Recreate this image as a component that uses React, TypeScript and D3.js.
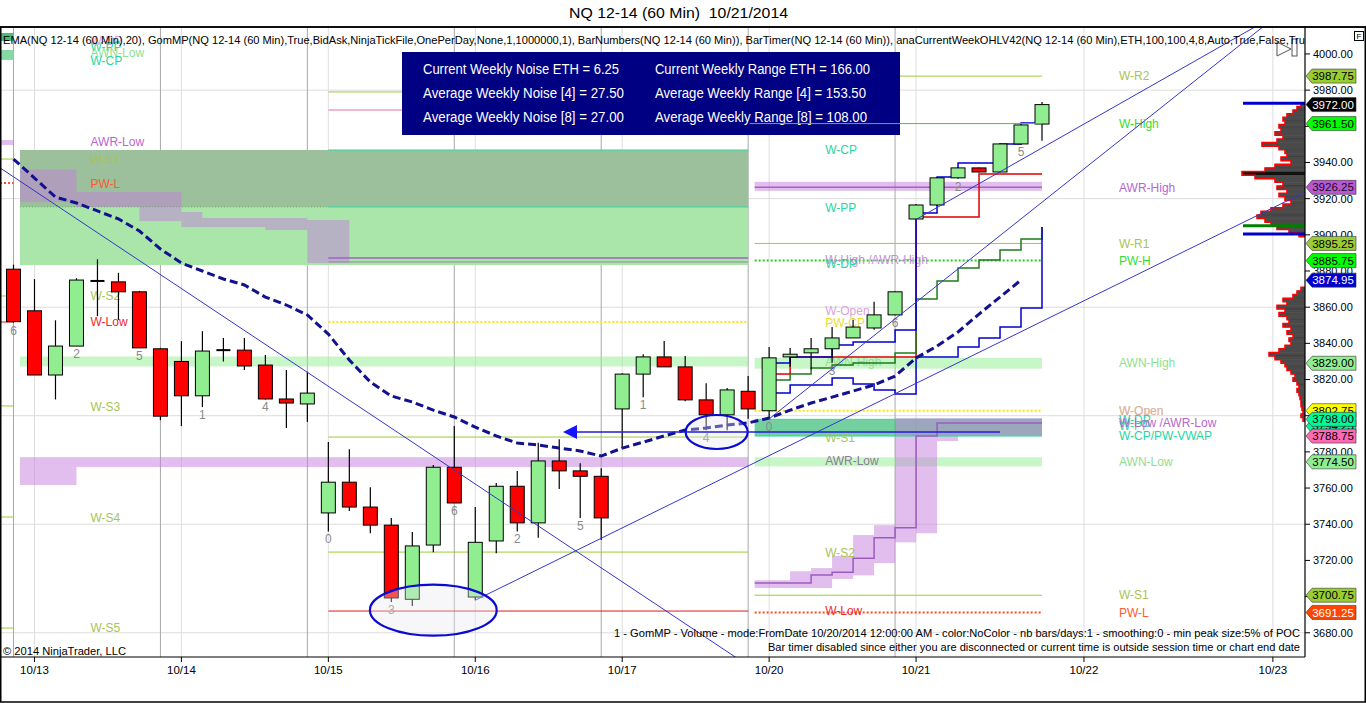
import React from 'react';
import * as d3 from 'd3';

// ---- hourly bars, NQ 12-14 (60 Min), bar index 0..49 ----
const opens = [3881, 3858, 3822.5, 3838.5, 3874.5, 3874, 3868.5, 3837, 3830, 3811,
  3836.25, 3836.25, 3828, 3809.25, 3806.5, 3746.25, 3763.25, 3749.5, 3739.5, 3698.5,
  3728.5, 3771.5, 3699.75, 3730.75, 3761, 3740.75, 3775, 3769.5, 3766.5, 3803.75,
  3823, 3832.5, 3827, 3808.75, 3800.5, 3813.5, 3802.75, 3832.5, 3834.75, 3837,
  3843, 3848.5, 3855.75, 3908.75, 3916.5, 3931.5, 3937, 3934.75, 3950.25, 3961.25];
const highs = [3883.5, 3875.5, 3852.75, 3876, 3886.5, 3879, 3869, 3837.5, 3841.25, 3846.75,
  3843, 3843, 3833.5, 3825.25, 3824.25, 3785.5, 3781.5, 3760.5, 3743.5, 3735.75,
  3772.75, 3794.25, 3749.5, 3762.75, 3769.5, 3785, 3787, 3773.75, 3771, 3823.5,
  3834, 3841.25, 3833, 3818, 3815.25, 3822, 3838, 3837.5, 3843, 3849,
  3853, 3863, 3868.75, 3917, 3932, 3937.5, 3937.25, 3950.5, 3961, 3973.5];
const lows = [3851.5, 3822.5, 3809, 3838.5, 3855, 3853, 3837.5, 3797.5, 3794.25, 3804.75,
  3830, 3825.25, 3809, 3793.25, 3796.5, 3736, 3747.25, 3735, 3697, 3694.75,
  3724.5, 3751.75, 3698, 3724, 3736, 3732.5, 3759.5, 3743.5, 3731.25, 3782,
  3810.25, 3827, 3808, 3792, 3792, 3798.25, 3798.25, 3827, 3825.75, 3829.25,
  3843, 3847.5, 3855.5, 3908.5, 3916, 3931, 3934.5, 3934.5, 3950, 3952];
const closes = [3852, 3822.5, 3838.5, 3875, 3874.5, 3868.5, 3837.5, 3799.75, 3811, 3835.75,
  3836.25, 3827.5, 3809.25, 3807, 3812.5, 3763.25, 3749.5, 3739.5, 3699.25, 3728,
  3771.5, 3751.75, 3730, 3761, 3740.75, 3775, 3769.5, 3766.5, 3743.5, 3823,
  3832.5, 3827, 3808.75, 3800.5, 3814.25, 3803.75, 3832, 3834, 3837, 3843,
  3849, 3855.75, 3868.5, 3916.5, 3931.5, 3937, 3934.75, 3950.25, 3960.75, 3972];

const ema20 = [3941.9, 3931.4, 3920.9, 3917.6, 3913.2, 3908.8, 3902.1, 3892.2, 3884.4, 3880,
  3875.6, 3872.3, 3865.6, 3861.2, 3855.7, 3845.1, 3830.8, 3818.6, 3810.9, 3807.6,
  3803.1, 3799.3, 3793.7, 3788.8, 3784.9, 3783.8, 3782.1, 3780.5, 3777.7, 3782.1,
  3785.4, 3788.8, 3792.1, 3793.2, 3794.8, 3796, 3798.7, 3803.1, 3807, 3810.3,
  3813.6, 3817, 3821.9, 3831.9, 3838.5, 3846.3, 3856.2, 3865.6, 3875];

const barNumberAt = [0, 3, 6, 9, 12, 15, 18, 21, 24, 27, 30, 33, 36, 39, 42, 45, 48];
const barNumberText = ['6', '2', '5', '1', '4', '0', '3', '6', '2', '5', '1', '4', '0', '3', '6', '2', '5'];

const dateTickBars = [1, 8, 15, 22, 29, 36, 43, 51, 60];
const dateTickText = ['10/13', '10/14', '10/15', '10/16', '10/17', '10/20', '10/21', '10/22', '10/23'];
const sessionEndBars = [0, 7, 14, 21, 28, 35, 42];

const priceTicks = [3680, 3700, 3720, 3740, 3760, 3780, 3800, 3820, 3840, 3860, 3880, 3900, 3920, 3940, 3960, 3980, 4000];
const priceGrid = [3680, 3740, 3800, 3860, 3920, 3980];

// ---- weekly levels (anaCurrentWeekOHLV) ----
const stubWeek = [-0.64, 0];
const prevWeek = [0.31, 35];
const currWeek = [35.31, 49];

const stubLevels: [number, string][] = [
  [3941.9, 'pivot'], [3928.7, 'pwl'], [3866.2, 'pivot'], [3851.8, 'low'],
  [3805.4, 'pivot'], [3744, 'pivot'], [3682.6, 'pivot']];
const stubBands: [number, number, string][] = [
  [4007.2, 4011.6, 'stubDark'], [3996.7, 4002.2, 'stubLight'], [3949.7, 3952.4, 'lilac']];
const stubLabels: [string, number, string][] = [
  ['W-DP', 4007.5, 'openPink'], ['W-PP', 4003.9, 'cp'], ['AWN-Low', 4000.4, 'awn'], ['W-CP', 3996.3, 'cp'],
  ['AWR-Low', 3951.3, 'awr'], ['W-S1', 3941.4, 'pivot'], ['PW-L', 3928.1, 'pwl'], ['W-S2', 3866.2, 'pivot'],
  ['W-Low', 3851.8, 'low'], ['W-S3', 3804.8, 'pivot'], ['W-S4', 3743.4, 'pivot'], ['W-S5', 3682.6, 'pivot']];

const prevLevels: [number, string, number, number][] = [
  [3979, 'pivot', 15, 35], [3969, 'pink', 15, 35], [3946.9, 'cp', 15, 35], [3915.4, 'cp', 15, 35],
  [3915.4, 'dotGreen', 0.31, 15], [3887.2, 'awr', 15, 35], [3885, 'gray', 15, 35],
  [3851.8, 'open', 15, 35], [3788.2, 'pivot', 15, 35], [3724.6, 'pivot', 15, 35], [3692, 'low', 15, 35]];
const prevBands: [number, number, number, number, string][] = [
  [0.31, 35, 3883.3, 3946.9, 'zone'], [0.31, 35, 3915.4, 3946.9, 'zoneGray'],
  [0.31, 35, 3827.25, 3832.75, 'awn'], [0.31, 35, 3771.6, 3777.1, 'lilac'], [0.31, 3, 3761.7, 3771.6, 'lilac'],
  [0.31, 3, 3918.2, 3936, 'lilac'], [3, 8, 3915.4, 3923.7, 'lilac'], [6, 8, 3907.6, 3915.4, 'lilac'],
  [8, 9, 3904.3, 3912.6, 'lilac'], [9, 12, 3904.3, 3909.3, 'lilac'], [12, 14, 3902.7, 3909.3, 'lilac'],
  [14, 16, 3884.4, 3908.2, 'lilac']];
const prevLabels: [string, number, string][] = [
  ['W-CP', 3946.9, 'cp'], ['W-PP', 3914.8, 'cp'], ['W-High /AWR-High', 3886.1, 'awrLight'], ['W-DP', 3883.9, 'cp'],
  ['W-Open', 3857.9, 'openPink'], ['PW-CP', 3851.2, 'open'], ['AWN-High', 3829.7, 'awn'], ['W-S1', 3787.7, 'pivot'],
  ['AWR-Low', 3774.9, 'awrGray'], ['W-S2', 3724.1, 'pivot'], ['W-Low', 3692, 'low']];

const currLevels: [number, string][] = [
  [3987.75, 'pivot'], [3926.25, 'awr'], [3895.25, 'pivot'], [3885.75, 'pwh'], [3802.75, 'open'],
  [3798, 'cp'], [3788.75, 'cp'], [3700.75, 'pivot'], [3691.25, 'pwl']];
const currBands: [number, number, number, number, string][] = [
  [35.31, 49, 3924.3, 3929.3, 'lilac'], [35.31, 49, 3826, 3832, 'awn'],
  [35.31, 49, 3788.75, 3798, 'cpBand'], [35.31, 49, 3772, 3777, 'awn'],
  [35.31, 37, 3704.75, 3709, 'lilac'], [37, 38, 3704.75, 3714, 'lilac'], [38, 39, 3704.75, 3715.75, 'lilac'],
  [39, 40, 3709.75, 3722.5, 'lilac'], [40, 41, 3711.75, 3734, 'lilac'], [41, 42, 3718.5, 3739.5, 'lilac'],
  [42, 43, 3730, 3798.75, 'lilac'], [43, 44, 3735, 3798.75, 'lilac'], [44, 45, 3786, 3798.75, 'lilac'],
  [45, 49, 3789.25, 3798.75, 'lilac']];
const currLabels: [string, number, string][] = [
  ['W-R2', 3987.75, 'pivot'], ['W-High', 3961.5, 'high'], ['AWR-High', 3926.25, 'awr'], ['W-R1', 3895.25, 'pivot'],
  ['PW-H', 3885.75, 'high'], ['AWN-High', 3829, 'awn'], ['W-Open', 3802.75, 'open'], ['W-Open', 3802.75, 'openPink'],
  ['W-DP', 3798, 'cp'], ['W-PP', 3794.3, 'cp'], ['W-Low /AWR-Low', 3795.9, 'awr'], ['W-CP/PW-VWAP', 3788.75, 'cp'],
  ['AWN-Low', 3774.5, 'awn'], ['W-S1', 3700.75, 'pivot'], ['PW-L', 3691.25, 'pwl']];
const weekHigh = 3961.5;

// developing levels of the current week [startBar, price]
const awrLowSteps: [number, number][] = [[35.31, 3707.5], [38, 3712], [39, 3713.5], [40, 3721.25], [41, 3732.5], [42, 3738], [43, 3788.75], [44, 3796]];
const stepRed: [number, number][] = [[36, 3823], [37, 3832.4], [43, 3909.9], [46, 3933.6]];
const stepBlueUpper: [number, number][] = [[36, 3829.1], [37, 3832.4], [39, 3839.1], [40, 3840.7], [42, 3847.4], [43, 3912], [44, 3932], [45, 3939.7], [47, 3950.25], [48, 3961.8]];
const stepGreen: [number, number][] = [[36, 3819.7], [37, 3823], [38, 3826.4], [39, 3828], [40, 3829.1], [42, 3834.7], [43, 3864.5], [44, 3874.5], [45, 3881.7], [46, 3886.1], [47, 3891.6], [48, 3897.7]];
const stepBlueLower: [number, number][] = [[36, 3812.5], [37, 3817], [39, 3820.8], [40, 3817.5], [41, 3814.2], [42, 3812], [43, 3832.4], [45, 3838], [46, 3843], [47, 3849], [48, 3859.5]];
const stepEndPrice = 3904.3;

// drawings: trend lines [bar1, price1, bar2, price2], ellipses, arrow
const trendLines: [number, number, number, number][] = [
  [-0.64, 3937, 34.4, 3666.5], [22, 3698, 61.5, 3923.5], [36, 3798.25, 59.2, 4012], [43, 3908.5, 58.7, 4012]];
const ellipses: [number, number, number, number][] = [[20, 3692.5, 3.02, 14.1], [33.5, 3791, 1.48, 9.4]];
const arrowFrom = 26.18, arrowTo = 47, arrowPrice = 3791;

// GomMP volume profile from 10/20
const profilePrices = [3972, 3970, 3968, 3966, 3964, 3962, 3960, 3958, 3956, 3954, 3952, 3950, 3948, 3946, 3944, 3942, 3940, 3938, 3936, 3934,
  3932, 3930, 3928, 3926, 3924, 3922, 3920, 3918, 3916, 3914, 3912, 3910, 3908, 3906, 3904, 3902, 3900,
  3870, 3868, 3866, 3864, 3862, 3860, 3858, 3856, 3854, 3852, 3850, 3848, 3846, 3844, 3842, 3840, 3838, 3836, 3834,
  3832, 3830, 3828, 3826, 3824, 3822, 3820, 3818, 3816, 3814, 3812, 3810, 3808, 3806, 3804, 3802, 3800, 3798];
const profileVolume = [4, 8, 12, 18, 22, 20, 26, 24, 30, 22, 28, 43, 26, 20, 18, 24, 14, 30, 40, 63,
  50, 30, 22, 28, 18, 26, 20, 14, 22, 34, 44, 48, 40, 34, 28, 16, 6,
  4, 8, 12, 22, 18, 28, 20, 26, 18, 16, 22, 14, 18, 12, 16, 14, 20, 26, 36,
  30, 24, 20, 18, 14, 10, 12, 8, 6, 8, 6, 5, 4, 4, 3, 2, 4, 2];
const profileMarks: [number, string][] = [[3972.75, '#0000cd'], [3905, '#008000'], [3900.5, '#0000cd']];

// right-axis price markers
const priceTags: [number, string, string][] = [
  [3987.75, '#9acd32', '#000'], [3972, '#000000', '#fff'], [3961.5, '#00ff00', '#000'], [3926.25, '#ba55d3', '#111'],
  [3895.25, '#9acd32', '#000'], [3885.75, '#00ff00', '#000'], [3874.95, '#0000cd', '#fff'], [3829, '#90ee90', '#000'],
  [3802.75, '#ffff00', '#000'], [3794.25, '#00fa9a', '#000'], [3788.75, '#ff69b4', '#000'], [3798, '#00fa9a', '#000'],
  [3774.5, '#90ee90', '#000'], [3700.75, '#9acd32', '#000'], [3691.25, '#ff4500', '#fff']];

const noiseLines = ['Current Weekly Noise ETH = 6.25', 'Average Weekly Noise [4] = 27.50', 'Average Weekly Noise [8] = 27.00'];
const rangeLines = ['Current Weekly Range ETH = 166.00', 'Average Weekly Range [4] = 153.50', 'Average Weekly Range [8] = 108.00'];

const indicatorText = 'EMA(NQ 12-14 (60 Min),20), GomMP(NQ 12-14 (60 Min),True,BidAsk,NinjaTickFile,OnePerDay,None,1,1000000,1), BarNumbers(NQ 12-14 (60 Min)), BarTimer(NQ 12-14 (60 Min)), anaCurrentWeekOHLV42(NQ 12-14 (60 Min),ETH,100,100,4,8,Auto,True,False,Tru';

const lineStyle: Record<string, { stroke: string; width: number; dash?: string }> = {
  pivot: { stroke: '#9acd32', width: 1 },
  high: { stroke: '#22dd22', width: 1 },
  pwh: { stroke: '#22cc22', width: 2, dash: '2,2' },
  awr: { stroke: '#a063c8', width: 1.5 },
  open: { stroke: '#ffe600', width: 2, dash: '2,2' },
  cp: { stroke: '#30d8a0', width: 1 },
  pwl: { stroke: '#ff4a20', width: 2, dash: '2,2' },
  low: { stroke: '#e01818', width: 1 },
  pink: { stroke: '#e070b0', width: 1 },
  gray: { stroke: '#909090', width: 1 },
  dotGreen: { stroke: '#5cbf5c', width: 1, dash: '1,2' },
};
const labelColor: Record<string, string> = {
  pivot: '#a7c457', high: '#33dd33', awr: '#b866d0', awrLight: '#c490d4', awrGray: '#8c7c98', awn: '#8ee08e',
  open: '#eadc2a', openPink: '#d8a4dc', cp: '#26d6a0', pwl: '#ff5a30', low: '#ee2a2a',
};
const bandFill: Record<string, string> = {
  zone: '#aae6aa', zoneGray: 'rgba(131,131,131,0.38)', awn: 'rgba(144,238,144,0.5)',
  lilac: 'rgba(195,125,220,0.5)', cpBand: 'rgba(30,180,100,0.62)', stubDark: '#4cbb7a', stubLight: '#86d9a4',
};

const FONT = 'Arial, "Liberation Sans", sans-serif';

export default function App() {
  const x = d3.scaleLinear().domain([0, 49]).range([13.5, 1042]);
  const y = d3.scaleLinear().domain([3666.6, 4014.9]).range([657, 27]);
  const right = 1305, top = 27, bottom = 657;
  const labelGap = 77;

  const emaPath = d3.line<number>().x((_, i) => x(i)).y(d => y(d))(ema20) || '';
  const step = (pts: [number, number][], end: number, endPrice?: number) => {
    const all: [number, number][] = [...pts, [end, pts[pts.length - 1][1]]];
    if (endPrice !== undefined) all.push([end, endPrice]);
    return d3.line<[number, number]>().x(d => x(d[0])).y(d => y(d[1])).curve(d3.curveStepAfter)(all) || '';
  };
  const band = (b0: number, b1: number, lo: number, hi: number, kind: string, key: string) => (
    <rect key={key} x={x(b0)} y={y(hi)} width={x(b1) - x(b0)} height={y(lo) - y(hi)} fill={bandFill[kind]} />
  );
  const level = (b0: number, b1: number, p: number, kind: string, key: string) => {
    const s = lineStyle[kind];
    return <line key={key} x1={x(b0)} x2={x(b1)} y1={y(p)} y2={y(p)} stroke={s.stroke} strokeWidth={s.width} strokeDasharray={s.dash} />;
  };
  const labels = (list: [string, number, string][], endBar: number, prefix: string) =>
    list.map(([t, p, k], i) => (
      <text key={prefix + i} x={x(endBar) + labelGap} y={y(p)} dy="0.35em" fontSize={12} fill={labelColor[k]}
        opacity={k === 'openPink' && prefix === 'c' ? 0.8 : 1}>{t}</text>
    ));
  const extend = ([b1, p1, b2, p2]: [number, number, number, number]) => {
    const slope = (p2 - p1) / (b2 - b1);
    const b3 = 70;
    return { x1: x(b1), y1: y(p1), x2: x(b3), y2: y(p1 + slope * (b3 - b1)) };
  };

  const volW = d3.scaleLinear().domain([0, d3.max(profileVolume) || 1]).range([0, 63]);
  const binH = y(3900) - y(3902);
  let profileOutline = '';
  let prevP: number | null = null;
  profilePrices.forEach((p, i) => {
    const xl = right - volW(profileVolume[i]);
    const yt = y(p + 1), yb = y(p - 1);
    if (prevP === null || prevP - p > 2) profileOutline += `M${right},${yt}`;
    profileOutline += `L${xl},${yt}L${xl},${yb}`;
    const next = profilePrices[i + 1];
    if (next === undefined || p - next > 2) profileOutline += `L${right},${yb}`;
    prevP = p;
  });

  return (
    <div>
      <style>{'body{margin:0;background:#fff;}'}</style>
      <svg width={1366} height={703} style={{ display: 'block', fontFamily: FONT }}>
        <defs>
          <clipPath id="plotClip"><rect x={0} y={top} width={right} height={bottom - top} /></clipPath>
        </defs>
        <rect x={0} y={0} width={1366} height={703} fill="#fff" />

        <g clipPath="url(#plotClip)">
          {/* grid */}
          {priceGrid.map(p => <line key={'g' + p} x1={0} x2={right} y1={y(p)} y2={y(p)} stroke="#dcdcdc" />)}
          {dateTickBars.map(b => <line key={'vd' + b} x1={x(b)} x2={x(b)} y1={top} y2={bottom} stroke="#dedede" />)}
          {sessionEndBars.map(b => <line key={'vs' + b} x1={x(b)} x2={x(b)} y1={top} y2={bottom} stroke="#a8a8a8" />)}

          {/* zones */}
          {stubBands.map(([lo, hi, k], i) => band(stubWeek[0], stubWeek[1], lo, hi, k, 'sb' + i))}
          {prevBands.map(([b0, b1, lo, hi, k], i) => band(b0, b1, lo, hi, k, 'pb' + i))}
          {currBands.map(([b0, b1, lo, hi, k], i) => band(b0, b1, lo, hi, k, 'cb' + i))}

          {/* weekly levels */}
          {stubLevels.map(([p, k], i) => level(stubWeek[0], stubWeek[1], p, k, 'sl' + i))}
          {prevLevels.map(([p, k, b0, b1], i) => level(b0, b1, p, k, 'pl' + i))}
          {currLevels.map(([p, k], i) => level(currWeek[0], currWeek[1], p, k, 'cl' + i))}
          <path d={step(awrLowSteps, currWeek[1])} fill="none" stroke="#9a5cc0" strokeWidth={1.5} />

          {labels(stubLabels, stubWeek[1], 's')}
          {labels(prevLabels, prevWeek[1], 'p')}
          {labels(currLabels, currWeek[1], 'c')}

          {/* volume profile */}
          {profilePrices.map((p, i) => (
            <rect key={'vp' + i} x={right - volW(profileVolume[i])} y={y(p + 1)} width={volW(profileVolume[i])} height={binH}
              fill={profileVolume[i] === d3.max(profileVolume) ? '#111' : '#4a4a4a'} stroke="#2a2a2a" strokeWidth={0.3} />
          ))}
          <path d={profileOutline} fill="none" stroke="#ff0000" strokeWidth={1.5} />
          {profileMarks.map(([p, c], i) => (
            <line key={'pm' + i} x1={1243} x2={right} y1={y(p)} y2={y(p)} stroke={c} strokeWidth={3} />
          ))}

          {/* developing levels */}
          <path d={step(stepRed, 49)} fill="none" stroke="#e00000" strokeWidth={1.5} />
          <path d={step(stepGreen, 49, stepEndPrice)} fill="none" stroke="#1e7b1e" strokeWidth={1.5} />
          <path d={step(stepBlueLower, 49, stepEndPrice)} fill="none" stroke="#0000cd" strokeWidth={1.5} />
          <path d={step(stepBlueUpper, 49)} fill="none" stroke="#0000cd" strokeWidth={1.5} />

          {/* candles */}
          {opens.map((o, i) => {
            const c = closes[i];
            const cx = x(i);
            const up = c > o;
            const yt = y(Math.max(o, c)), yb = y(Math.min(o, c));
            return (
              <g key={'c' + i}>
                <line x1={cx} x2={cx} y1={y(highs[i])} y2={y(lows[i])} stroke="#000" strokeWidth={1.2} />
                {o === c
                  ? <line x1={cx - 7} x2={cx + 7} y1={yt} y2={yt} stroke="#000" strokeWidth={2} />
                  : <rect x={cx - 7} y={yt} width={14} height={Math.max(1, yb - yt)} fill={up ? '#90ee90' : '#ff0000'} stroke="#000" strokeWidth={1} />}
              </g>
            );
          })}
          {barNumberAt.map((b, i) => (
            <text key={'bn' + i} x={x(b)} y={y(lows[b]) + 12} textAnchor="middle" fontSize={12} fill="#8a8a8a">{barNumberText[i]}</text>
          ))}

          {/* EMA 20 */}
          <path d={emaPath} fill="none" stroke="#12128f" strokeWidth={3} strokeDasharray="8,4" />

          {/* drawings */}
          {trendLines.map((t, i) => {
            const l = extend(t);
            const x1 = i === 0 ? x(-10) : l.x1;
            const y1 = i === 0 ? y(t[1] + ((t[3] - t[1]) / (t[2] - t[0])) * (-10 - t[0])) : l.y1;
            return <line key={'tl' + i} x1={x1} y1={y1} x2={l.x2} y2={l.y2} stroke="#3535cf" strokeWidth={1} />;
          })}
          {ellipses.map(([b, p, rb, rp], i) => (
            <ellipse key={'el' + i} cx={x(b)} cy={y(p)} rx={x(b + rb) - x(b)} ry={y(p - rp) - y(p)}
              fill="rgba(232,232,240,0.35)" stroke="#0a0ad2" strokeWidth={2.2} />
          ))}
          <line x1={x(arrowFrom) + 10} x2={x(arrowTo)} y1={y(arrowPrice)} y2={y(arrowPrice)} stroke="#1c1cd8" strokeWidth={1.5} />
          <path d={`M${x(arrowFrom)},${y(arrowPrice)}L${x(arrowFrom) + 14},${y(arrowPrice) - 7}L${x(arrowFrom) + 14},${y(arrowPrice) + 7}Z`} fill="#1414ff" />

          {/* weekly noise / range box */}
          <rect x={402} y={52} width={498} height={83} fill="#000083" />
          {noiseLines.map((t, i) => (
            <text key={'n' + i} x={423} y={69 + i * 24} dy="0.35em" fontSize={14} fill="#fff" textLength={i === 0 ? 196 : 201} lengthAdjust="spacingAndGlyphs">{t}</text>
          ))}
          {rangeLines.map((t, i) => (
            <text key={'r' + i} x={655} y={69 + i * 24} dy="0.35em" fontSize={14} fill="#fff" textLength={[215, 211, 212][i]} lengthAdjust="spacingAndGlyphs">{t}</text>
          ))}
          <line x1={x(currWeek[0]) - 5} x2={x(currWeek[1])} y1={y(weekHigh)} y2={y(weekHigh)} stroke="#22dd22" strokeWidth={1} />

          {/* bar timer glyph */}
          <path d="M1277,42L1291,49L1277,56Z" fill="#fff" stroke="#555" strokeWidth={1} />
          <rect x={1292} y={39} width={5} height={17} fill="#fff" stroke="#555" strokeWidth={1} />
        </g>

        {/* texts */}
        <text x={3} y={40} dy="0.35em" fontSize={11.5} fill="#000" textLength={1302} lengthAdjust="spacingAndGlyphs">{indicatorText}</text>
        <text x={3} y={651} dy="0.35em" fontSize={11} fill="#000" textLength={123} lengthAdjust="spacingAndGlyphs">© 2014 NinjaTrader, LLC</text>
        <text x={614} y={633} dy="0.35em" fontSize={11.5} fill="#000" textLength={686} lengthAdjust="spacingAndGlyphs">1 - GomMP - Volume - mode:FromDate 10/20/2014 12:00:00 AM - color:NoColor - nb bars/days:1 - smoothing:0 - min peak size:5% of POC</text>
        <text x={768} y={646.5} dy="0.35em" fontSize={11.5} fill="#000" textLength={532} lengthAdjust="spacingAndGlyphs">Bar timer disabled since either you are disconnected or current time is outside session time or chart end date</text>

        {/* axes */}
        {priceTicks.map(p => (
          <g key={'pt' + p}>
            <line x1={right} x2={right + 5} y1={y(p)} y2={y(p)} stroke="#000" />
            <text x={right + 8} y={y(p)} dy="0.35em" fontSize={11} fill="#000">{p.toFixed(2)}</text>
          </g>
        ))}
        {priceTags.map(([p, fill, tc], i) => {
          const ty = y(p);
          return (
            <g key={'tag' + i}>
              <path d={`M${right + 1},${ty}L${right + 7},${ty - 7}L1356,${ty - 7}L1356,${ty + 7}L${right + 7},${ty + 7}Z`} fill={fill} stroke="#333" strokeWidth={0.6} />
              <text x={1333} y={ty} dy="0.36em" fontSize={11.5} textAnchor="middle" fill={tc}>{p.toFixed(2)}</text>
            </g>
          );
        })}
        {dateTickBars.map((b, i) => (
          <g key={'dt' + b}>
            <line x1={x(b)} x2={x(b)} y1={bottom} y2={bottom + 5} stroke="#000" />
            <text x={x(b)} y={670} dy="0.35em" fontSize={11.5} textAnchor="middle" fill="#000">{dateTickText[i]}</text>
          </g>
        ))}

        {/* frame */}
        <line x1={0} x2={1366} y1={top} y2={top} stroke="#000" strokeWidth={1.5} />
        <line x1={right} x2={right} y1={top} y2={bottom} stroke="#000" strokeWidth={1.2} />
        <line x1={0} x2={right} y1={bottom} y2={bottom} stroke="#000" strokeWidth={1.2} />
        <rect x={0.75} y={top} width={1364.5} height={703 - top - 1} fill="none" stroke="#000" strokeWidth={1.5} />
        <rect x={1354.5} y={31.5} width={9} height={9} fill="#fff" stroke="#000" strokeWidth={1} />
        <text x={1359} y={36} dy="0.35em" fontSize={8} textAnchor="middle" fill="#000">F</text>

        <text x={678.5} y={13} dy="0.35em" fontSize={15} textAnchor="middle" fill="#000" textLength={219}
          lengthAdjust="spacingAndGlyphs" style={{ whiteSpace: 'pre' }}>{'NQ 12-14 (60 Min)  10/21/2014'}</text>
      </svg>
    </div>
  );
}
